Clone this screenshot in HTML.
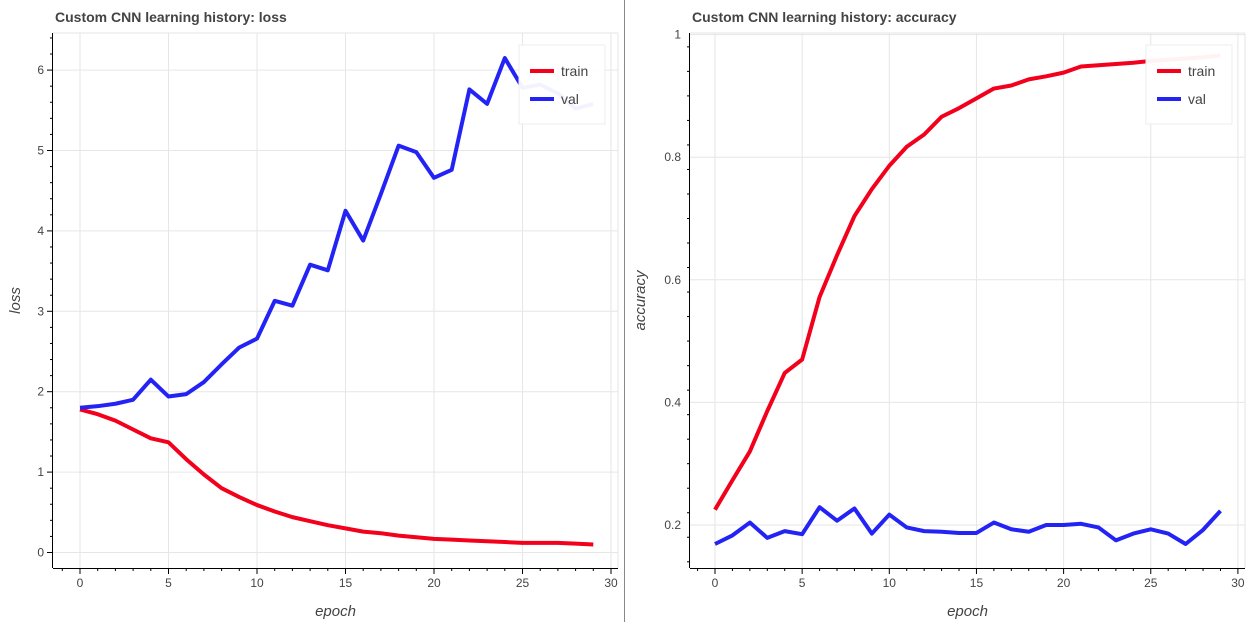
<!DOCTYPE html>
<html><head><meta charset="utf-8"><style>
html,body{margin:0;padding:0;background:#fff;}
svg{display:block;font-family:"Liberation Sans",sans-serif;}
</style></head><body>
<svg id="chart" width="1248" height="622" viewBox="0 0 1248 622">
<line x1="624.5" y1="0" x2="624.5" y2="622" stroke="#888" stroke-width="1"/>
</svg>
<script>
const epochs = [0,1,2,3,4,5,6,7,8,9,10,11,12,13,14,15,16,17,18,19,20,21,22,23,24,25,26,27,28,29];
const lossTrain = [1.78,1.72,1.64,1.53,1.42,1.37,1.16,0.97,0.80,0.69,0.59,0.51,0.44,0.39,0.34,0.30,0.26,0.24,0.21,0.19,0.17,0.16,0.15,0.14,0.13,0.12,0.12,0.12,0.11,0.10];
const lossVal = [1.80,1.82,1.85,1.90,2.15,1.94,1.97,2.12,2.34,2.55,2.66,3.13,3.07,3.58,3.51,4.25,3.88,4.46,5.06,4.98,4.66,4.76,5.76,5.58,6.15,5.78,5.82,5.71,5.52,5.58];
const accTrain = [0.225,0.273,0.320,0.386,0.448,0.470,0.572,0.640,0.704,0.748,0.786,0.817,0.837,0.866,0.880,0.896,0.912,0.917,0.927,0.932,0.938,0.948,0.950,0.952,0.954,0.957,0.959,0.961,0.963,0.966];
const accVal = [0.169,0.183,0.204,0.179,0.190,0.185,0.229,0.207,0.227,0.186,0.217,0.196,0.190,0.189,0.187,0.187,0.204,0.193,0.189,0.200,0.200,0.202,0.196,0.175,0.186,0.193,0.186,0.169,0.192,0.223];
const xTicks = [0,5,10,15,20,25,30];
const lossTicks = [0,1,2,3,4,5,6];
const accTicks = [0.2,0.4,0.6,0.8,1];

const NS="http://www.w3.org/2000/svg";
const svg=document.getElementById('chart');
function mk(tag,attrs,parent){const e=document.createElementNS(NS,tag);for(const k in attrs)e.setAttribute(k,attrs[k]);(parent||svg).appendChild(e);return e;}

function panel(cfg){
  const g=mk('g',{});
  
  
  const X=v=>cfg.x0+(v-0)*cfg.xs;
  const Y=v=>cfg.y0-(v-cfg.yb)*cfg.ys;
  xTicks.forEach(t=>{const l=mk('line',{x1:X(t),x2:X(t),y1:cfg.top,y2:cfg.bottom,stroke:'#e6e6e6','stroke-width':1},g);
    });
  cfg.yTicks.forEach(t=>{const l=mk('line',{x1:cfg.left,x2:cfg.right,y1:Y(t),y2:Y(t),stroke:'#e6e6e6','stroke-width':1},g);
    });
  mk('line',{x1:cfg.left,x2:cfg.right,y1:cfg.top,y2:cfg.top,stroke:'#e6e6e6'},g);
  mk('line',{x1:cfg.right,x2:cfg.right,y1:cfg.top,y2:cfg.bottom,stroke:'#e6e6e6'},g);
  const xa=mk('line',{x1:cfg.left,x2:cfg.right,y1:cfg.bottom+0.5,y2:cfg.bottom+0.5,stroke:'#000'},g);
  
  const ya=mk('line',{x1:cfg.left-0.5,x2:cfg.left-0.5,y1:cfg.top,y2:cfg.bottom,stroke:'#000'},g);
  
  for(let e=-1;e<=30;e++){const px=X(e);if(px<cfg.left||px>cfg.right)continue;
    mk('line',{x1:px,x2:px,y1:cfg.bottom,y2:cfg.bottom+(e%5===0?6:3),stroke:'#000'},g);}
  xTicks.forEach(t=>{const tx=mk('text',{x:X(t),y:cfg.bottom+19,'text-anchor':'middle','font-size':12,fill:'#444'},g);tx.textContent=t;
    });
  for(let v=cfg.minorFrom;v<=cfg.minorTo+1e-9;v+=cfg.minorStep){const py=Y(v);if(py<cfg.top||py>cfg.bottom)continue;
    const major=cfg.yTicks.some(t=>Math.abs(t-v)<1e-6);
    mk('line',{x1:cfg.left-(major?6:3),x2:cfg.left,y1:py,y2:py,stroke:'#000'},g);}
  cfg.yTicks.forEach(t=>{const tx=mk('text',{x:cfg.left-9,y:Y(t)+4,'text-anchor':'end','font-size':12,fill:'#444'},g);tx.textContent=t;
    });
  const xl=mk('text',{x:(cfg.left+cfg.right)/2,y:cfg.bottom+48,'text-anchor':'middle','font-size':15,'font-style':'italic',fill:'#444'},g);xl.textContent='epoch';
  
  const yc=(cfg.top+cfg.bottom)/2;
  const lx=cfg.left-cfg.ylOff;
  const yl=mk('text',{x:lx,y:yc,'text-anchor':'middle','font-size':15,'font-style':'italic',fill:'#444',transform:`rotate(-90 ${lx} ${yc})`},g);yl.textContent=cfg.ylabel;
  
  const ti=mk('text',{x:cfg.left+2,y:22,'font-size':14,'font-weight':'bold',fill:'#444'},g);ti.textContent=cfg.title;
  
  [[cfg.train,'#f2001c','train-line'],[cfg.val,'#2323f5','val-line']].forEach(([d,c,n])=>{
    const p=mk('polyline',{points:d.map((v,i)=>X(epochs[i])+','+Y(v)).join(' '),fill:'none',stroke:c,'stroke-width':4,'stroke-linejoin':'round'},g);
    });
  const lg=mk('g',{},g);
  
  
  mk('rect',{x:cfg.right-99,y:45,width:86,height:79,fill:'rgba(255,255,255,0.95)',stroke:'#eee'},lg);
  [['train','#f2001c',71],['val','#2323f5',99]].forEach(([n,c,yy])=>{
    const e=mk('g',{},lg);
    
    
    mk('line',{x1:cfg.right-88,x2:cfg.right-64,y1:yy,y2:yy,stroke:c,'stroke-width':4},e);
    const t=mk('text',{x:cfg.right-57,y:yy+5,'font-size':14,fill:'#444'},e);t.textContent=n;});
}
panel({name:'loss-chart',title:'Custom CNN learning history: loss',ylabel:'loss',ylOff:33,
  left:53,right:618,top:33,bottom:568,x0:80,xs:17.7,y0:552.5,yb:0,ys:80.4,
  yTicks:lossTicks,minorFrom:-0.2,minorTo:6.6,minorStep:0.2,train:lossTrain,val:lossVal});
panel({name:'accuracy-chart',title:'Custom CNN learning history: accuracy',ylabel:'accuracy',ylOff:45,
  left:690,right:1245,top:33,bottom:568,x0:715,xs:17.43,y0:525,yb:0.2,ys:613,
  yTicks:accTicks,minorFrom:0.14,minorTo:1.0,minorStep:0.04,train:accTrain,val:accVal});
</script>
</body></html>
